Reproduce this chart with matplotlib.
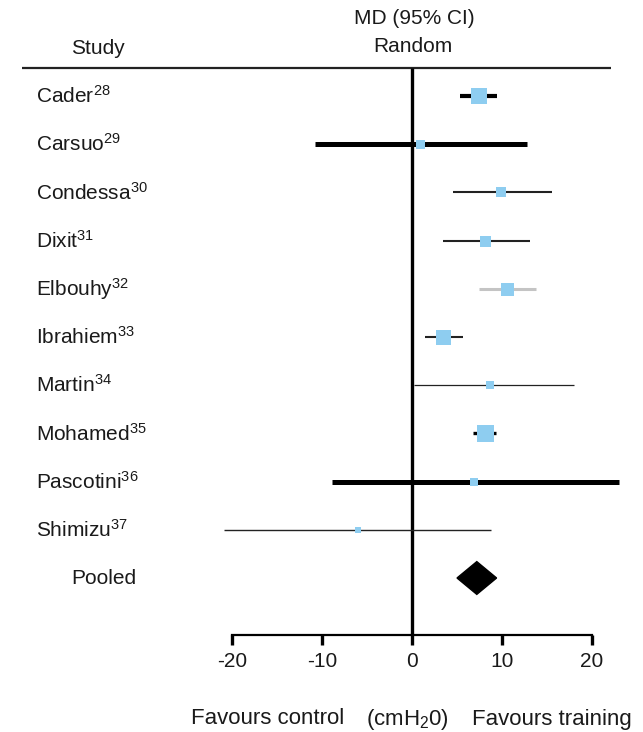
import matplotlib
matplotlib.use("Agg")
import matplotlib.pyplot as plt
import numpy as np

plt.rcParams['font.family'] = ['Liberation Sans', 'DejaVu Sans']
plt.rcParams['mathtext.fontset'] = 'custom'
plt.rcParams['mathtext.rm'] = 'Liberation Sans'
plt.rcParams['mathtext.it'] = 'Liberation Sans'
plt.rcParams['mathtext.bf'] = 'Liberation Sans:bold'

# ---- data ----
studies = ["Cader", "Carsuo", "Condessa", "Dixit", "Elbouhy", "Ibrahiem",
           "Martin", "Mohamed", "Pascotini", "Shimizu"]
refs = ["28", "29", "30", "31", "32", "33", "34", "35", "36", "37"]
md = [7.4, 0.9, 9.9, 8.1, 10.6, 3.4, 8.7, 8.1, 6.9, -6.0]
ci_low = [5.3, -10.8, 4.5, 3.4, 7.4, 1.4, 0.2, 6.8, -8.9, -20.9]
ci_high = [9.4, 12.8, 15.5, 13.1, 13.8, 5.7, 18.0, 9.3, 23.0, 8.8]
weights_sq = [16, 9, 10, 11, 13, 15, 8, 17, 8, 6]        # square size (px)
line_w = [3.0, 3.6, 1.5, 1.5, 2.2, 1.5, 0.9, 2.4, 3.6, 1.0]
line_col = ["black", "black", "#222222", "#222222", "#c4c4c4", "#222222",
            "#222222", "black", "black", "#222222"]
pooled_md = 7.2
pooled_low = 5.0
pooled_high = 9.4
xticks = [-20, -10, 0, 10, 20]

# ---- layout helpers (pixel geometry of the figure) ----
W, H = 643, 732
x0_px, px_per_unit = 412, 9.0
row0_px, row_step = 96, 48.2

fig = plt.figure(figsize=(W / 100, H / 100), dpi=100)
ax = fig.add_axes([0, 0, 1, 1])
ax.set_xlim((0 - x0_px) / px_per_unit, (W - x0_px) / px_per_unit)
ax.set_ylim((H - row0_px) / row_step, (0 - row0_px) / row_step)

def xd(px):
    return (px - x0_px) / px_per_unit

def yd(py):
    return (py - row0_px) / row_step

txt_col = "#1a1a1a"
fs = 15
fs_bottom = 16

header_y = yd(68)
axis_y = yd(635)

# header line
ax.plot([xd(22), xd(611)], [header_y, header_y], color="#222222", lw=1.6,
        solid_capstyle="butt", zorder=2)
# zero line
ax.plot([0, 0], [header_y, axis_y], color="black", lw=2.4,
        solid_capstyle="butt", zorder=2)

# header texts
ax.text(xd(414), yd(18), "MD (95% CI)", ha="center", va="center",
        fontsize=fs, color=txt_col)
ax.text(xd(413), yd(46), "Random", ha="center", va="center",
        fontsize=fs, color=txt_col)
ax.text(xd(98), yd(48), "Study", ha="center", va="center",
        fontsize=fs, color=txt_col)

rows = np.arange(len(studies))
for i, (name, r) in enumerate(zip(studies, refs)):
    ax.text(xd(36), rows[i], name + r"$^{" + r + "}$", ha="left", va="center",
            fontsize=fs, color=txt_col)
    ax.plot([ci_low[i], ci_high[i]], [rows[i], rows[i]], color=line_col[i],
            lw=line_w[i], solid_capstyle="butt", zorder=3)
    ax.plot(md[i], rows[i], marker="s", linestyle="none",
            markersize=weights_sq[i] * 0.72, color="#8ecdf0",
            markeredgewidth=0, zorder=4)

# pooled
prow = len(studies)
ax.text(xd(104), prow, "Pooled", ha="center", va="center",
        fontsize=fs, color=txt_col)
dh = 0.34
ax.fill([pooled_low, pooled_md, pooled_high, pooled_md],
        [prow, prow - dh, prow, prow + dh], color="black", zorder=4)

# x axis
for s in ["top", "left", "right"]:
    ax.spines[s].set_visible(False)
ax.spines["bottom"].set_position(("data", axis_y))
ax.spines["bottom"].set_bounds(xticks[0], xticks[-1])
ax.spines["bottom"].set_linewidth(1.6)
ax.set_xticks(xticks)
ax.set_xticklabels([str(t) for t in xticks])
ax.tick_params(axis="x", direction="out", length=7, width=2.4, pad=5,
               labelsize=fs, labelcolor=txt_col)
ax.set_yticks([])

ax.text(xd(268), yd(719), "Favours control", ha="center", va="center",
        fontsize=fs_bottom, color=txt_col)
ax.text(xd(407), yd(719), "(cmH$_{2}$0)", ha="center", va="center",
        fontsize=fs_bottom, color=txt_col)
ax.text(xd(552), yd(719), "Favours training", ha="center", va="center",
        fontsize=fs_bottom, color=txt_col)

fig.savefig("out.png", dpi=100)
